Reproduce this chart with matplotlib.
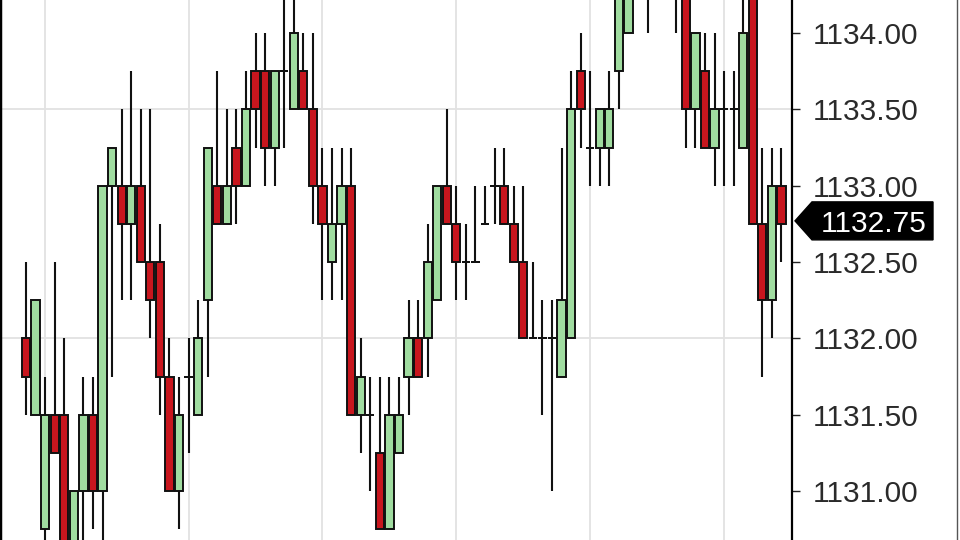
import matplotlib
matplotlib.use("Agg")
import matplotlib.pyplot as plt
from matplotlib.patches import Polygon
import numpy as np

# OHLC bars (0.25 tick)
opens = [1132.00, 1131.50, 1130.75, 1131.50, 1131.50, 1130.50, 1131.00, 1131.50, 1131.00, 1133.00,
         1133.00, 1132.75, 1133.00, 1132.50, 1132.50, 1131.75, 1131.00, 1131.75, 1131.50, 1132.25,
         1133.00, 1132.75, 1133.25, 1133.00, 1133.75, 1133.75, 1133.25, 1133.75, 1133.50, 1133.75,
         1133.50, 1133.00, 1132.50, 1132.75, 1133.00, 1131.50, 1131.50, 1131.25, 1130.75, 1131.25,
         1131.75, 1132.00, 1132.00, 1132.25, 1133.00, 1132.75, 1132.50, 1132.50, 1132.75, 1133.00,
         1133.00, 1132.75, 1132.50, 1132.00, 1132.00, 1132.00, 1131.75, 1132.00, 1133.75, 1133.25,
         1133.25, 1133.25, 1133.75, 1134.00, 1134.50, 1134.75, 1134.50, 1134.75, 1134.75, 1134.50,
         1133.50, 1133.75, 1133.25, 1133.50, 1133.50, 1133.25, 1134.50, 1132.75, 1132.25, 1133.00]
highs = [1132.50, 1132.25, 1131.75, 1132.50, 1132.00, 1131.00, 1131.75, 1131.75, 1133.00, 1133.25,
         1133.50, 1133.75, 1133.50, 1133.50, 1132.75, 1132.00, 1131.75, 1132.00, 1132.25, 1133.25,
         1133.75, 1133.50, 1133.50, 1133.75, 1134.00, 1134.00, 1133.75, 1134.50, 1134.50, 1134.00,
         1134.00, 1133.25, 1133.25, 1133.25, 1133.25, 1132.00, 1131.75, 1131.75, 1131.75, 1131.75,
         1132.25, 1132.25, 1132.75, 1133.00, 1133.50, 1133.00, 1132.75, 1133.00, 1133.00, 1133.25,
         1133.25, 1133.00, 1133.00, 1132.50, 1132.25, 1132.25, 1133.25, 1133.75, 1134.00, 1133.75,
         1133.50, 1133.75, 1134.50, 1134.75, 1135.00, 1135.00, 1135.00, 1135.00, 1134.75, 1134.75,
         1134.00, 1134.00, 1134.00, 1133.75, 1133.75, 1134.50, 1134.75, 1133.25, 1133.25, 1133.25]
lows = [1131.50, 1131.50, 1130.50, 1131.25, 1130.25, 1130.50, 1130.50, 1130.75, 1130.50, 1131.75,
        1132.25, 1132.25, 1132.50, 1132.00, 1131.50, 1131.00, 1130.75, 1131.25, 1131.50, 1131.75,
        1132.75, 1132.75, 1132.75, 1133.00, 1133.25, 1133.00, 1133.00, 1133.25, 1133.50, 1133.50,
        1132.75, 1132.25, 1132.25, 1132.25, 1131.50, 1131.25, 1131.00, 1130.75, 1130.75, 1131.25,
        1131.50, 1131.75, 1131.75, 1132.25, 1132.75, 1132.25, 1132.25, 1132.50, 1132.75, 1132.75,
        1132.75, 1132.50, 1132.00, 1132.00, 1131.50, 1131.00, 1131.75, 1132.00, 1133.25, 1133.00,
        1133.00, 1133.00, 1133.50, 1134.00, 1134.25, 1134.00, 1134.25, 1134.25, 1134.00, 1133.25,
        1133.25, 1133.25, 1133.00, 1133.00, 1133.00, 1133.25, 1132.75, 1131.75, 1132.00, 1132.50]
closes = [1131.75, 1132.25, 1131.50, 1131.25, 1130.50, 1131.00, 1131.50, 1131.00, 1133.00, 1133.25,
          1132.75, 1133.00, 1132.50, 1132.25, 1131.75, 1131.00, 1131.50, 1131.75, 1132.00, 1133.25,
          1132.75, 1133.00, 1133.00, 1133.50, 1133.50, 1133.25, 1133.75, 1133.75, 1134.00, 1133.50,
          1133.00, 1132.75, 1132.75, 1133.00, 1131.50, 1131.75, 1131.50, 1130.75, 1131.50, 1131.50,
          1132.00, 1131.75, 1132.50, 1133.00, 1132.75, 1132.50, 1132.50, 1132.50, 1132.75, 1133.00,
          1132.75, 1132.50, 1132.00, 1132.00, 1132.00, 1132.00, 1132.25, 1133.50, 1133.50, 1133.25,
          1133.50, 1133.50, 1134.25, 1134.50, 1134.75, 1134.50, 1134.75, 1134.50, 1134.50, 1133.50,
          1134.00, 1133.25, 1133.50, 1133.50, 1133.50, 1134.00, 1132.75, 1132.25, 1133.00, 1132.75]

ytick_vals = [1131.0, 1131.5, 1132.0, 1132.5, 1133.0, 1133.5, 1134.0]
ygrid_vals = [1132.0, 1133.5]
xgrid_bars = [2, 17, 31, 45, 59, 73]
last_price = 1132.75

up_color = '#a0dca0'
down_color = '#c8161e'

plt.rcParams['font.family'] = ['Liberation Sans', 'DejaVu Sans']

fig = plt.figure(figsize=(9.6, 5.4), dpi=100)
ax = fig.add_axes([0, 0, 792 / 960, 1])

o = np.array(opens)
h = np.array(highs)
l = np.array(lows)
c = np.array(closes)
x = np.arange(len(o))
up = c >= o

# grid first so it sits behind the bars
for g in ygrid_vals:
    ax.axhline(g, color='#e2e2e2', lw=1.3, zorder=0)
for g in xgrid_bars:
    ax.axvline(g, color='#e2e2e2', lw=1.3, zorder=0)

ax.vlines(x, l, h, color='#111111', lw=1.5, zorder=1)

w = 0.86
body_lo = np.minimum(o, c)
body_h = np.abs(c - o)
cols = [up_color if u else down_color for u in up]
ax.bar(x, body_h, width=w, bottom=body_lo, color=cols, edgecolor='#111111', linewidth=1.4, zorder=2)
doji = body_h == 0
ax.hlines(o[doji], x[doji] - w / 2, x[doji] + w / 2, color='#111111', lw=1.4, zorder=2)

ymin, ymax = 1130.68, 1134.216
ax.set_xlim(-2.72, 80.1)
ax.set_ylim(ymin, ymax)

ax.yaxis.tick_right()
ax.set_yticks(ytick_vals)
ax.set_yticklabels(["%.2f" % v for v in ytick_vals])
ax.tick_params(axis='y', length=6, width=1.0, color='#222222', labelsize=21.5,
               labelcolor='#2a2a2a', pad=9)
ax.set_xticks([])
ax.spines['top'].set_visible(False)
ax.spines['bottom'].set_visible(False)
ax.spines['right'].set_linewidth(1.6)
ax.spines['left'].set_linewidth(2.5)

# last price marker on the price axis
yc = (last_price - ymin) / (ymax - ymin) + 3 / 540
x0 = 795 / 960
x1 = 812 / 960
x2 = 933 / 960
hh = 19 / 540
marker = Polygon([[x0, yc], [x1, yc + hh], [x2, yc + hh], [x2, yc - hh], [x1, yc - hh]],
                 closed=True, transform=fig.transFigure, color='black', zorder=5)
fig.patches.append(marker)
fig.text(927 / 960, yc, "%.2f" % last_price, color='white', fontsize=21.5,
         ha='right', va='center_baseline', zorder=6)

fig.add_artist(plt.Line2D([957 / 960, 957 / 960], [0, 1], color='#555555', lw=1.0))

fig.savefig("out.png", dpi=100)
